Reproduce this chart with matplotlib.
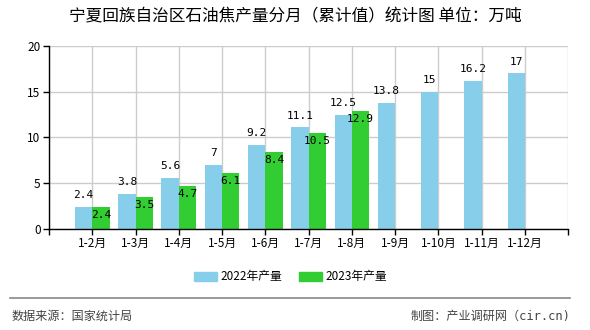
import matplotlib.pyplot as plt
from matplotlib.patches import Patch
from matplotlib.lines import Line2D

plt.rcParams['font.family'] = ['Noto Sans CJK SC', 'DejaVu Sans']

# 数据
months = ['1-2月', '1-3月', '1-4月', '1-5月', '1-6月', '1-7月',
          '1-8月', '1-9月', '1-10月', '1-11月', '1-12月']
y2022 = [2.4, 3.8, 5.6, 7, 9.2, 11.1, 12.5, 13.8, 15, 16.2, 17]
y2023 = [2.4, 3.5, 4.7, 6.1, 8.4, 10.5, 12.9]
yticks = [0, 5, 10, 15, 20]

c22 = '#87CEEB'
c23 = '#32CD32'

fig = plt.figure(figsize=(5.9, 3.3), dpi=100)
ax = fig.add_axes([0.083, 0.306, 0.880, 0.555])

x = list(range(1, len(months) + 1))
w = 0.4
ax.bar([i - w / 2 for i in x], y2022, width=w, color=c22, zorder=2)
ax.bar([i + w / 2 for i in x[:len(y2023)]], y2023, width=w, color=c23, zorder=2)

# 数值标签
for i, v in zip(x, y2022):
    ax.annotate(f'{v:g}', (i - w / 2, v), xytext=(0, 8.5), textcoords='offset points',
                ha='center', va='center', fontsize=8, family='DejaVu Sans Mono', zorder=3)
for i, v in zip(x, y2023):
    ax.annotate(f'{v:g}', (i + w / 2, v), xytext=(0, -6), textcoords='offset points',
                ha='center', va='center', fontsize=8, family='DejaVu Sans Mono', zorder=3)

ax.set_xlim(0, 12)
ax.set_ylim(0, 20)
ax.set_xticks(range(0, 13))
ax.set_xticklabels([''] + months + [''], fontsize=8.5)
ax.set_yticks(yticks)
ax.set_yticklabels([str(t) for t in yticks], fontsize=8.5)
ax.tick_params(axis='both', length=4, width=1, color='black', pad=2)
ax.grid(True, color='#cccccc', linewidth=1, zorder=0)
ax.set_axisbelow(True)
for s in ['top', 'right']:
    ax.spines[s].set_visible(False)
ax.spines['left'].set_linewidth(1)
ax.spines['bottom'].set_linewidth(1)

# 标题
fig.text(0.5, 0.948, '宁夏回族自治区石油焦产量分月（累计值）统计图 单位：万吨',
         ha='center', va='center', fontsize=12)

# 图例
handles = [Patch(color=c22, label='2022年产量'), Patch(color=c23, label='2023年产量')]
fig.legend(handles=handles, loc='center', bbox_to_anchor=(0.493, 0.161), ncol=2,
           frameon=False, fontsize=8.5, handlelength=1.9, handleheight=0.8,
           handletextpad=0.35, columnspacing=1.4)

# 底部
fig.add_artist(Line2D([10 / 590, 570 / 590], [1 - 298 / 330] * 2,
                      color='#888888', linewidth=1.2))
fig.text(12 / 590, 1 - 316 / 330, '数据来源：国家统计局', ha='left', va='center',
         fontsize=8.7, color='#444444')
fig.text(570 / 590, 1 - 316 / 330, '制图：产业调研网（cir.cn)', ha='right', va='center',
         fontsize=8.7, color='#444444', family=['DejaVu Sans Mono', 'Noto Sans CJK SC'])

plt.savefig('out.png', dpi=100)
